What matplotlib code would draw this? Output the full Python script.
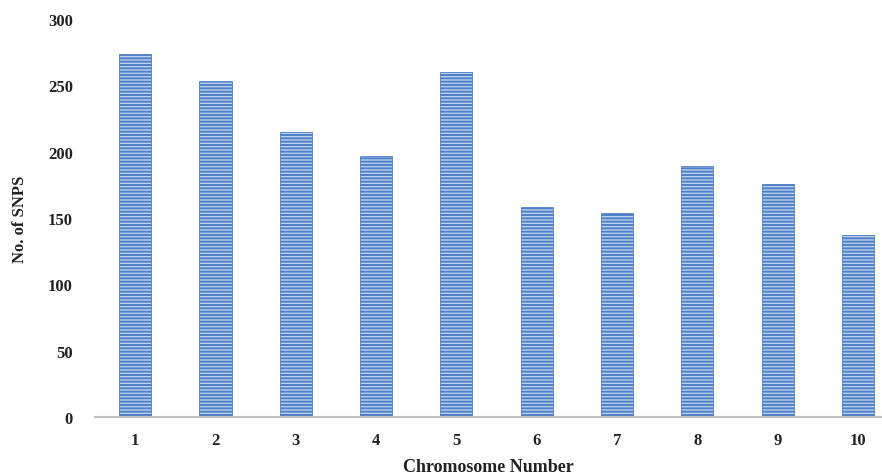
import numpy as np
import matplotlib
matplotlib.use("Agg")
from matplotlib import pyplot as plt

chromosomes = ["1", "2", "3", "4", "5", "6", "7", "8", "9", "10"]
snp_counts = [274, 253, 215, 197, 260, 158, 154, 189, 176, 137]
y_ticks = [0, 50, 100, 150, 200, 250, 300]

plt.rcParams['font.family'] = ['Liberation Serif', 'DejaVu Serif']
plt.rcParams['hatch.linewidth'] = 1.4
plt.rcParams['hatch.color'] = '#4f7fc6'

fig = plt.figure(figsize=(8.82, 4.77), dpi=100)
ax = fig.add_axes([0.1077, 0.1237, 0.8923, 0.8343])

x = np.arange(1, len(chromosomes) + 1)
ax.bar(x, snp_counts, width=0.4, color='#b9d0ee', edgecolor='#4f7fc6',
       linewidth=0.6, hatch='-----')

ax.set_xlim(0.5, 10.3)
ax.set_ylim(0, 300)
ax.set_xticks(x)
ax.set_xticklabels(chromosomes, fontsize=12, fontweight='bold', color='#222222')
ax.set_yticks(y_ticks)
ax.set_yticklabels([str(v) for v in y_ticks], fontsize=12, fontweight='bold',
                   color='#222222')
ax.tick_params(axis='x', length=0, pad=11)
ax.tick_params(axis='y', length=0, pad=16)

for s in ['top', 'right', 'left']:
    ax.spines[s].set_visible(False)
ax.spines['bottom'].set_color('#bfbfbf')
ax.spines['bottom'].set_linewidth(1.5)

ax.set_xlabel("Chromosome Number", fontsize=13, fontweight='bold',
              color='#222222', labelpad=7)
ax.set_ylabel("No. of SNPS", fontsize=12, fontweight='bold', color='#222222',
              labelpad=14)

fig.savefig("out.png", dpi=100)
